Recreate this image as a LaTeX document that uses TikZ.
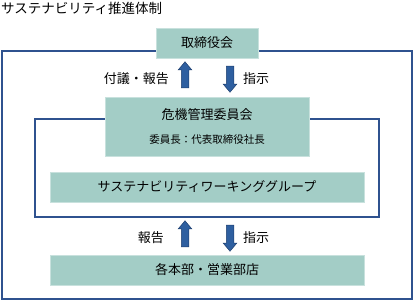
\documentclass[tikz,border=0pt]{standalone}
\usepackage{fontspec}
\setmainfont{Noto Sans CJK JP}
\usetikzlibrary{shapes.arrows}
\definecolor{boxfill}{RGB}{163,205,198}
\definecolor{framecol}{RGB}{47,82,143}
\definecolor{arrfill}{RGB}{46,95,160}
\definecolor{arredge}{RGB}{31,63,110}
\tikzset{
  orgbox/.style={draw=boxfill!60!white, line width=0.6pt, fill=boxfill, font=\fontsize{13}{15}\selectfont, inner sep=0pt, align=center},
  frameline/.style={draw=framecol, line width=1.5pt},
  blockarr/.style={single arrow, draw=arredge, fill=arrfill, line width=0.5pt, minimum height=26pt, minimum width=0pt, single arrow head extend=3pt, inner sep=0pt, single arrow tip angle=80},
  lbl/.style={font=\fontsize{13}{15}\selectfont, inner sep=0pt}
}
\newcommand{\shaft}{\rule{0pt}{7pt}}
\begin{document}
\begin{tikzpicture}[x=1pt, y=-1pt]
\useasboundingbox (0,0) rectangle (414,301);
% title
\node[lbl, anchor=west, font=\fontsize{13.5}{15}\selectfont] (title) at (1,8) {サステナビリティ推進体制};
% frames
\draw[frameline] (2,51) rectangle (412,299);
\draw[frameline] (35,119) rectangle (379,217);
% boxes
\node[orgbox, minimum width=102pt, minimum height=30pt] (board) at (207,43) {取締役会};
\node[orgbox, minimum width=204pt, minimum height=59pt] (risk) at (207,126.5) {};
\node[lbl] (risktitle) at (207,115) {危機管理委員会};
\node[lbl, font=\fontsize{10.5}{12}\selectfont] (riskchair) at (207,140) {委員長：代表取締役社長};
\node[orgbox, minimum width=314pt, minimum height=30pt] (wg) at (207,187) {サステナビリティワーキンググループ};
\node[orgbox, minimum width=314pt, minimum height=30pt] (div) at (207,270) {各本部・営業部店};
% arrows
\node[blockarr, rotate=90] (up1) at (185,77) {\shaft};
\node[blockarr, rotate=-90] (down1) at (230,77) {\shaft};
\node[blockarr, rotate=90] (up2) at (185,236) {\shaft};
\node[blockarr, rotate=-90] (down2) at (230,236) {\shaft};
\node[lbl, anchor=east] (report1) at (169,79) {付議・報告};
\node[lbl, anchor=west] (order1) at (243,79) {指示};
\node[lbl, anchor=east] (report2) at (164,238) {報告};
\node[lbl, anchor=west] (order2) at (243,238) {指示};
\end{tikzpicture}
\end{document}
